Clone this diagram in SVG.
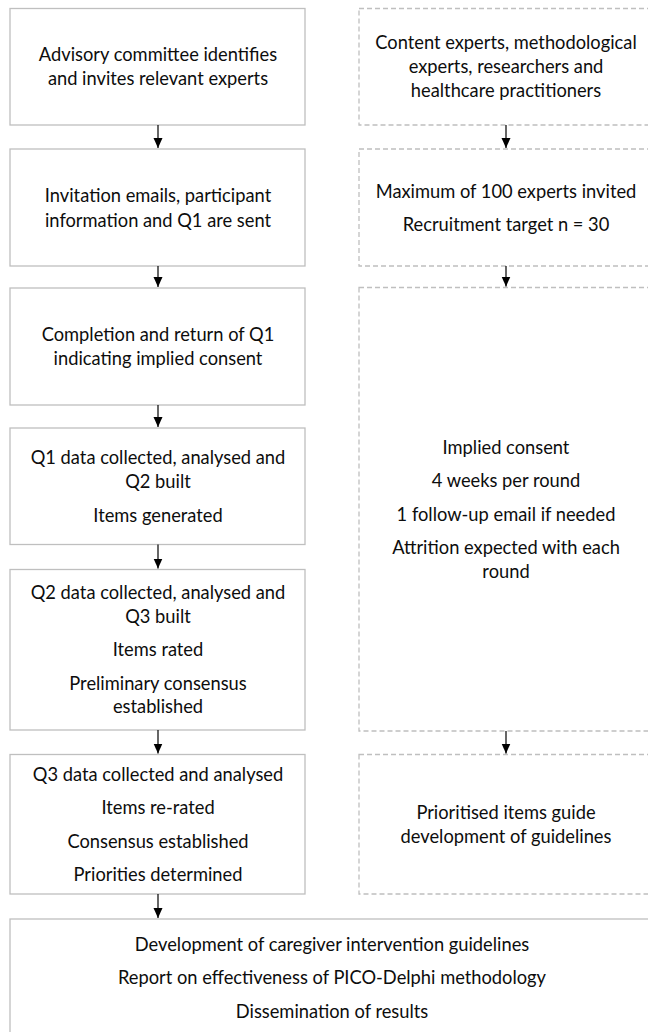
<svg xmlns="http://www.w3.org/2000/svg" width="648" height="1032" viewBox="0 0 648 1032">
<style>
.box{fill:#fff;stroke:#bfbfbf;stroke-width:1.3}
.dbox{fill:#fff;stroke:#bfbfbf;stroke-width:1.3;stroke-dasharray:5,3}
text{font-family:Lato,"Open Sans",sans-serif;font-size:18.3px;fill:#0d0d0d;text-anchor:middle}
.conn line{stroke:#000;stroke-width:1.2}
</style>
<defs>
<marker id="ah" markerWidth="10" markerHeight="11" refX="10" refY="5" orient="auto" markerUnits="userSpaceOnUse">
<path d="M0,0.5 L10,5 L0,9.5 Z" fill="#000"/>
</marker>
</defs>
<rect width="648" height="1032" fill="#fff"/>
<g id="n1"><rect class="box" x="10" y="8.5" width="295" height="116.5"/>
<text x="158" y="61">Advisory committee identifies</text><text x="158" y="85">and invites relevant experts</text></g>
<g id="n2"><rect class="box" x="10" y="149" width="295" height="117"/>
<text x="158" y="202">Invitation emails, participant</text><text x="158" y="227">information and Q1 are sent</text></g>
<g id="n3"><rect class="box" x="10" y="288" width="295" height="117"/>
<text x="158" y="341">Completion and return of Q1</text><text x="158" y="365">indicating implied consent</text></g>
<g id="n4"><rect class="box" x="10" y="428" width="295" height="116.5"/>
<text x="158" y="464">Q1 data collected, analysed and</text><text x="158" y="488">Q2 built</text><text x="158" y="522">Items generated</text></g>
<g id="n5"><rect class="box" x="10" y="569.5" width="295" height="160.5"/>
<text x="158" y="599">Q2 data collected, analysed and</text><text x="158" y="623">Q3 built</text><text x="158" y="656">Items rated</text><text x="158" y="690">Preliminary consensus</text><text x="158" y="713">established</text></g>
<g id="n6"><rect class="box" x="10" y="754.5" width="295" height="139.5"/>
<text x="158" y="781">Q3 data collected and analysed</text><text x="158" y="814">Items re-rated</text><text x="158" y="848">Consensus established</text><text x="158" y="881">Priorities determined</text></g>
<g id="r1"><rect class="dbox" x="359" y="8.5" width="295" height="116.5"/>
<text x="506" y="49">Content experts, methodological</text><text x="506" y="73">experts, researchers and</text><text x="506" y="97">healthcare practitioners</text></g>
<g id="r2"><rect class="dbox" x="359" y="149" width="295" height="117"/>
<text x="506" y="198">Maximum of 100 experts invited</text><text x="506" y="231">Recruitment target n = 30</text></g>
<g id="r3"><rect class="dbox" x="359" y="287.5" width="295" height="443.5"/>
<text x="506" y="454">Implied consent</text><text x="506" y="487">4 weeks per round</text><text x="506" y="521">1 follow-up email if needed</text><text x="506" y="554">Attrition expected with each</text><text x="506" y="578">round</text></g>
<g id="r4"><rect class="dbox" x="359" y="754.5" width="295" height="139.5"/>
<text x="506" y="819">Prioritised items guide</text><text x="506" y="843">development of guidelines</text></g>
<g id="n7"><rect class="box" x="10" y="919" width="645" height="120"/>
<text x="332" y="951">Development of caregiver intervention guidelines</text><text x="332" y="984">Report on effectiveness of PICO-Delphi methodology</text><text x="332" y="1018">Dissemination of results</text></g>
<g class="conn" id="connectors">
<line x1="158" y1="125" x2="158" y2="148" marker-end="url(#ah)"/>
<line x1="158" y1="266" x2="158" y2="287" marker-end="url(#ah)"/>
<line x1="158" y1="405" x2="158" y2="427" marker-end="url(#ah)"/>
<line x1="158" y1="544.5" x2="158" y2="568.5" marker-end="url(#ah)"/>
<line x1="158" y1="730" x2="158" y2="753.5" marker-end="url(#ah)"/>
<line x1="158" y1="894" x2="158" y2="918" marker-end="url(#ah)"/>
<line x1="506" y1="125" x2="506" y2="148" marker-end="url(#ah)"/>
<line x1="506" y1="266" x2="506" y2="286.5" marker-end="url(#ah)"/>
<line x1="506" y1="731" x2="506" y2="753.5" marker-end="url(#ah)"/>
</g>
</svg>
